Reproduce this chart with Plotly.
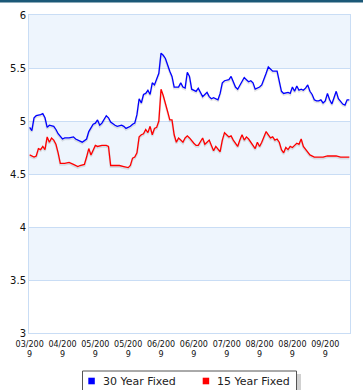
import plotly.graph_objects as go

# ---- data ----
days_30 = [0, 1, 2, 3, 5, 6, 7, 8, 9, 11, 12, 13, 15, 16, 18, 20, 21, 23, 24, 26,
           27, 29, 30, 31, 32, 33, 34, 35, 36, 37, 39, 40, 42, 43, 44, 46, 47, 48, 49, 50,
           51, 52, 53, 54, 55, 56, 57, 58, 59, 60, 61, 62, 63, 64, 65, 66, 68, 69, 70, 71,
           72, 73, 74, 76, 77, 78, 79, 80, 81, 82, 83, 84, 85, 86, 87, 88, 89, 91, 92, 93,
           94, 95, 96, 97, 98, 99, 100, 101, 102, 103, 105, 106, 107, 108, 109, 110, 111, 113, 114, 115,
           116, 118, 119, 120, 121, 122, 123, 124, 125, 126, 127, 128, 129, 130, 131, 132, 133, 134, 135, 136,
           137, 138, 139, 140, 141, 142, 143, 144, 145, 146]
rate_30 = [4.94, 4.91, 5.03, 5.05, 5.06, 5.07, 5.03, 4.94, 4.96, 4.95, 4.92, 4.88, 4.83, 4.84, 4.84, 4.85, 4.83, 4.81, 4.80, 4.83,
           4.90, 4.97, 4.98, 5.01, 4.96, 4.98, 5.02, 5.05, 5.03, 4.99, 4.96, 4.95, 4.96, 4.95, 4.93, 4.95, 4.97, 4.98, 5.06, 5.21,
           5.17, 5.25, 5.26, 5.29, 5.25, 5.36, 5.34, 5.39, 5.45, 5.64, 5.62, 5.59, 5.52, 5.47, 5.42, 5.32, 5.32, 5.36, 5.32, 5.31,
           5.46, 5.42, 5.30, 5.28, 5.31, 5.27, 5.23, 5.25, 5.27, 5.23, 5.21, 5.22, 5.21, 5.20, 5.26, 5.36, 5.38, 5.39, 5.42, 5.36,
           5.32, 5.30, 5.34, 5.37, 5.41, 5.39, 5.37, 5.38, 5.36, 5.30, 5.32, 5.34, 5.39, 5.45, 5.51, 5.49, 5.47, 5.47, 5.37, 5.28,
           5.26, 5.27, 5.26, 5.32, 5.28, 5.33, 5.29, 5.30, 5.29, 5.31, 5.34, 5.28, 5.25, 5.20, 5.19, 5.19, 5.20, 5.17, 5.19, 5.26,
           5.20, 5.16, 5.22, 5.28, 5.21, 5.18, 5.16, 5.15, 5.20, 5.20]

days_15 = [0, 2, 3, 4, 5, 6, 7, 8, 9, 10, 11, 12, 13, 14, 16, 18, 20, 22, 23, 25,
           26, 27, 28, 30, 31, 33, 35, 36, 37, 39, 41, 43, 45, 46, 47, 48, 49, 50, 51, 52,
           53, 54, 55, 56, 57, 58, 59, 60, 61, 63, 64, 65, 66, 67, 68, 69, 70, 71, 72, 73,
           74, 75, 76, 77, 79, 80, 81, 82, 83, 84, 85, 86, 87, 88, 89, 91, 92, 93, 94, 95,
           96, 97, 98, 99, 100, 101, 102, 103, 104, 105, 106, 107, 108, 109, 110, 111, 112, 113, 114, 115,
           116, 117, 118, 119, 120, 121, 122, 123, 124, 125, 126, 127, 128, 130, 131, 133, 134, 136, 137, 139,
           140, 142, 143, 145, 146]
rate_15 = [4.68, 4.66, 4.67, 4.74, 4.73, 4.76, 4.73, 4.85, 4.80, 4.84, 4.82, 4.78, 4.70, 4.60, 4.60, 4.61, 4.59, 4.57, 4.58, 4.59,
           4.66, 4.74, 4.68, 4.77, 4.76, 4.77, 4.77, 4.76, 4.58, 4.58, 4.58, 4.57, 4.56, 4.58, 4.65, 4.66, 4.70, 4.85, 4.87, 4.88,
           4.92, 4.89, 4.95, 4.87, 4.93, 4.94, 5.00, 5.30, 5.24, 5.09, 5.01, 5.01, 4.87, 4.80, 4.84, 4.82, 4.80, 4.84, 4.86, 4.84,
           4.81, 4.79, 4.77, 4.77, 4.84, 4.78, 4.80, 4.82, 4.77, 4.72, 4.76, 4.73, 4.71, 4.82, 4.89, 4.85, 4.86, 4.82, 4.79, 4.76,
           4.82, 4.87, 4.82, 4.85, 4.83, 4.80, 4.76, 4.74, 4.80, 4.76, 4.80, 4.85, 4.90, 4.87, 4.84, 4.85, 4.82, 4.83, 4.80, 4.73,
           4.70, 4.75, 4.73, 4.76, 4.75, 4.77, 4.79, 4.78, 4.83, 4.76, 4.73, 4.71, 4.68, 4.66, 4.66, 4.66, 4.66, 4.67, 4.67, 4.67,
           4.67, 4.66, 4.66, 4.66, 4.66]

tick_days = [0, 15, 30, 45, 60, 75, 90, 105, 120, 135]
tick_labels = ["03/200<br>9", "04/200<br>9", "05/200<br>9", "05/200<br>9", "06/200<br>9",
               "06/200<br>9", "07/200<br>9", "08/200<br>9", "08/200<br>9", "09/200<br>9"]
y_ticks = [3, 3.5, 4, 4.5, 5, 5.5, 6]
y_labels = ["3", "3.5", "4", "4.5", "5", "5.5", "6"]
series_names = ["30 Year Fixed", "15 Year Fixed"]
series_colors = ["#0000FF", "#FF0000"]

BAND = "#EEF5FD"
GRID = "#C9DDF5"

W, H = 363, 390
ML, MR, MT, MB = 29, 13, 15, 57
PW, PH = W - ML - MR, H - MT - MB


def px(xp):
    return (xp - ML) / PW


def py(yp):
    return (H - MB - yp) / PH


fig = go.Figure()

# alternating bands
for i in range(len(y_ticks) - 1):
    if (len(y_ticks) - 2 - i) % 2 == 0:
        fig.add_shape(type="rect", xref="paper", yref="y", x0=0, x1=1,
                      y0=y_ticks[i], y1=y_ticks[i + 1], fillcolor=BAND,
                      line_width=0, layer="below")

# top dark bar of the page
fig.add_shape(type="rect", xref="paper", yref="paper", x0=px(-5), x1=px(W + 5),
              y0=py(2.5), y1=py(-5), fillcolor="#1B5877", line_width=0)

for xs, ys, c in [(days_30, rate_30, series_colors[0]), (days_15, rate_15, series_colors[1])]:
    fig.add_trace(go.Scatter(x=xs, y=[v - 0.012 for v in ys], mode="lines",
                             line=dict(color="rgba(0,0,0,0.10)", width=2.2),
                             hoverinfo="skip", showlegend=False))
    fig.add_trace(go.Scatter(x=xs, y=ys, mode="lines", line=dict(color=c, width=1.3),
                             hoverinfo="x+y+name", name="", showlegend=False))

# custom legend box (with shadow)
fig.add_shape(type="rect", xref="paper", yref="paper", x0=px(85), x1=px(301),
              y0=py(400), y1=py(374), fillcolor="rgba(0,0,0,0.18)", line_width=0)
fig.add_shape(type="rect", xref="paper", yref="paper", x0=px(82.5), x1=px(296.5),
              y0=py(398), y1=py(371), fillcolor="white",
              line=dict(color="#555555", width=1))
legend_x = [88.3, 202.7]
for name, c, lx in zip(series_names, series_colors, legend_x):
    fig.add_shape(type="rect", xref="paper", yref="paper", x0=px(lx), x1=px(lx + 6.5),
                  y0=py(384.3), y1=py(377.7), fillcolor=c, line_width=0)
    fig.add_annotation(xref="paper", yref="paper", x=px(lx + 12.5), y=py(381),
                       text=name, showarrow=False, xanchor="left", yanchor="middle",
                       font=dict(family="DejaVu Sans", size=11, color="#222222"))

fig.update_layout(
    width=W, height=H,
    margin=dict(l=ML, r=MR, t=MT, b=MB, autoexpand=False),
    paper_bgcolor="white", plot_bgcolor="white",
    font=dict(family="DejaVu Sans", size=10, color="#000000"),
    showlegend=False,
)
fig.update_xaxes(range=[-0.3, 146.3], tickvals=tick_days, ticktext=tick_labels,
                 showgrid=False, zeroline=False, showline=True, linecolor=GRID,
                 mirror=True, ticks="outside", ticklen=3, tickcolor="rgba(0,0,0,0)",
                 tickfont=dict(size=8, color="#111111"), tickangle=0,
                 automargin=False)
fig.update_yaxes(range=[3, 6], tickvals=y_ticks, ticktext=y_labels,
                 showgrid=True, gridcolor=GRID, zeroline=False, showline=True,
                 linecolor=GRID, mirror=True, ticks="", tickfont=dict(size=10, color="#111111"),
                 automargin=False)

fig.write_html("out.html", config={"displayModeBar": False},
               post_script="document.body.style.margin='0';document.body.style.overflow='hidden';")
